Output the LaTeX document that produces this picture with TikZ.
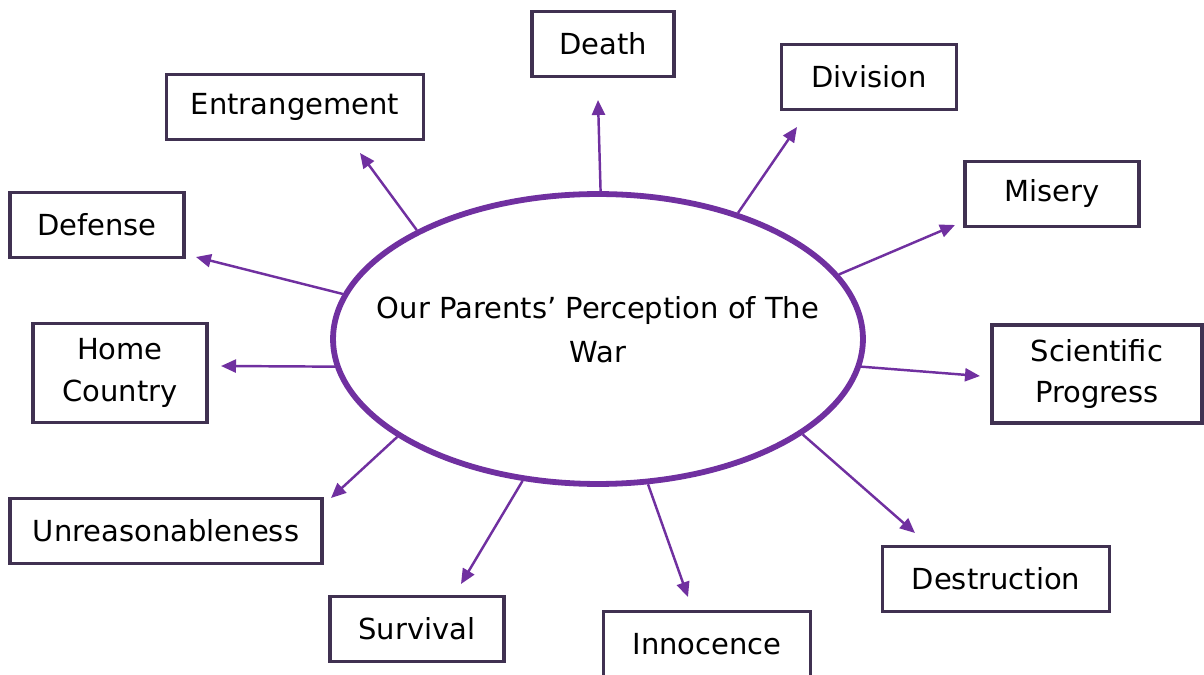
\documentclass[tikz,border=0pt]{standalone}
\usepackage{fontspec}
\setmainfont{DejaVu Sans}
\usetikzlibrary{shapes.geometric,arrows.meta}
\definecolor{warpurple}{HTML}{7030A0}
\definecolor{boxline}{HTML}{403151}
\begin{document}
\begin{tikzpicture}[x=0.02cm,y=-0.02cm,
		box/.style={draw=boxline, line width=2pt, minimum height=1.3cm, align=center, font=\fontsize{16.5}{23.5}\selectfont},
		arr/.style={-{Triangle[length=0.3cm,width=0.26cm]}, draw=warpurple, line width=1.4pt}]
		\useasboundingbox (0,0) rectangle (1204,675);
		\node[ellipse, draw=warpurple, line width=3.3pt, inner sep=0pt, minimum width=10.6cm, minimum height=5.8cm] (war) at (598,339) {};
		\node[align=center, font=\fontsize{16.5}{25}\selectfont] (warlabel) at (598,330) {Our Parents’ Perception of The\\War};
		% boxes round the ellipse
		\node[box, minimum width=2.84cm] (death) at (603,44) {Death};
		\node[box, minimum width=3.5cm] (division) at (869,77) {Division};
		\node[box, minimum width=5.14cm] (entrangement) at (295,107) {Entrangement};
		\node[box, minimum width=3.48cm] (misery) at (1052,194) {Misery};
		\node[box, minimum width=3.48cm] (defense) at (97,225) {Defense};
		\node[box, minimum width=3.48cm, minimum height=1.98cm] (home) at (120,373) {Home\\Country};
		\node[box, minimum width=4.2cm, minimum height=1.96cm] (science) at (1097,374) {Scientific\\Progress};
		\node[box, minimum width=6.24cm] (unreason) at (166,531) {Unreasonableness};
		\node[box, minimum width=4.54cm] (destruction) at (996,579) {Destruction};
		\node[box, minimum width=3.48cm] (survival) at (417,629) {Survival};
		\node[box, minimum width=4.14cm] (innocence) at (707,644) {Innocence};
		% arrow tips
		\coordinate (death-tip) at (598,100);
		\coordinate (division-tip) at (797,127);
		\coordinate (entrangement-tip) at (360,153);
		\coordinate (misery-tip) at (955,225);
		\coordinate (defense-tip) at (196,257);
		\coordinate (home-tip) at (221,366);
		\coordinate (science-tip) at (980,376);
		\coordinate (unreason-tip) at (331,498);
		\coordinate (destruction-tip) at (915,533);
		\coordinate (survival-tip) at (461,584);
		\coordinate (innocence-tip) at (688,597);
		\draw[arr] (war.89) -- (death-tip);
		\draw[arr] (war.42) -- (division-tip);
		\draw[arr] (war.149) -- (entrangement-tip);
		\draw[arr] (war.15) -- (misery-tip);
		\draw[arr] (war.170) -- (defense-tip);
		\draw[arr] (war.186) -- (home-tip);
		\draw[arr] (war.-6) -- (science-tip);
		\draw[arr] (war.206) -- (unreason-tip);
		\draw[arr] (war.-25) -- (destruction-tip);
		\draw[arr] (war.242) -- (survival-tip);
		\draw[arr] (war.289) -- (innocence-tip);
	\end{tikzpicture}
\end{document}
